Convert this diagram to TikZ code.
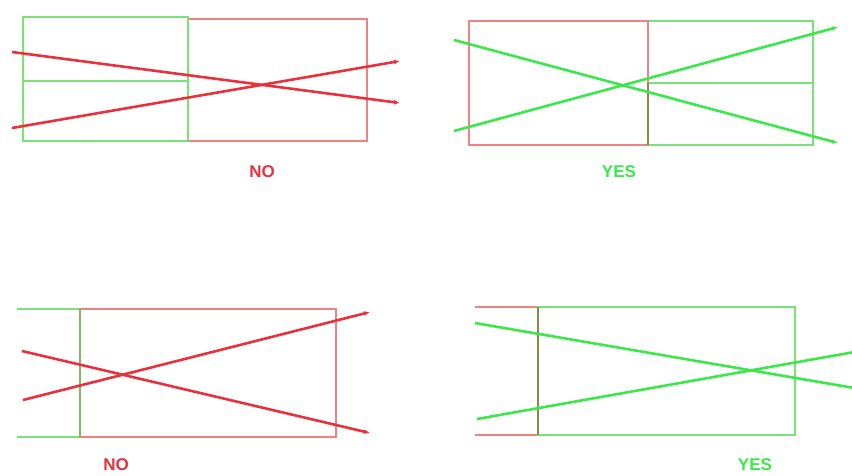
\documentclass[tikz,border=0pt]{standalone}
\usepackage{fontspec}
\setmainfont{Liberation Sans}
\usetikzlibrary{arrows.meta}
\definecolor{lred}{HTML}{F08282}
\definecolor{lgreen}{HTML}{78E478}
\definecolor{sred}{HTML}{E8313C}
\definecolor{sgreen}{HTML}{3BE84A}
\definecolor{olive}{HTML}{8A8A45}
\tikzset{
  redbox/.style={draw=lred,line width=1.3pt},
  greenbox/.style={draw=lgreen,line width=1.3pt},
  redray/.style={draw=sred,line width=2.6pt,-{Latex[length=6pt,width=5pt]}},
  greenray/.style={draw=sgreen,line width=2.6pt,-{Latex[length=6pt,width=5pt]}},
  redlbl/.style={text=sred,font=\fontsize{17}{17}\selectfont\bfseries,inner sep=0pt},
  greenlbl/.style={text=sgreen,font=\fontsize{17}{17}\selectfont\bfseries,inner sep=0pt},
}
\begin{document}
\begin{tikzpicture}[x=1pt,y=-1pt]
\useasboundingbox (0,0) rectangle (852,475);
% ---------- Panel 1 (top-left) ----------
\draw[greenbox] (23,17) rectangle (188,141);
\draw[greenbox] (23,81) -- (188,81);
\draw[redbox] (188,19) rectangle (367,141);
\draw[greenbox] (188,17) -- (188,141);
\coordinate (a1) at (12,52);  \coordinate (b1) at (400,103);
\coordinate (a2) at (12,128); \coordinate (b2) at (400,61);
\draw[redray] (a1) -- (b1);
\draw[redray] (a2) -- (b2);
\node[redlbl] (no1) at (262,172) {NO};
% ---------- Panel 2 (top-right) ----------
\draw[greenbox] (648,21) rectangle (813,145);
\draw[greenbox] (648,83) -- (813,83);
\draw[redbox] (469,21) rectangle (648,145);
\draw[draw=olive,line width=1.3pt] (648,83) -- (648,145);
\coordinate (c1) at (454,40);  \coordinate (d1) at (838,143);
\coordinate (c2) at (454,131); \coordinate (d2) at (838,27);
\draw[greenray] (c1) -- (d1);
\draw[greenray] (c2) -- (d2);
\node[greenlbl] (yes1) at (619,172) {YES};
% ---------- Panel 3 (bottom-left) ----------
\draw[greenbox] (17,309) -- (80,309);
\draw[greenbox] (17,437) -- (80,437);
\draw[redbox] (80,309) rectangle (336,437);
\draw[draw=olive!50!lgreen,line width=1.3pt] (80,309) -- (80,437);
\coordinate (e1) at (22,351); \coordinate (f1) at (370,433);
\coordinate (e2) at (23,400); \coordinate (f2) at (370,312);
\draw[redray] (e1) -- (f1);
\draw[redray] (e2) -- (f2);
\node[redlbl] (no2) at (116,465) {NO};
% ---------- Panel 4 (bottom-right) ----------
\draw[redbox] (475,307) -- (538,307);
\draw[redbox] (475,435) -- (538,435);
\draw[greenbox] (538,307) rectangle (795,435);
\draw[draw=olive,line width=1.4pt] (538,307) -- (538,435);
\coordinate (g1) at (475,323); \coordinate (h1) at (860,389);
\coordinate (g2) at (477,419); \coordinate (h2) at (860,351);
\draw[draw=sgreen,line width=2.6pt] (g1) -- (h1);
\draw[draw=sgreen,line width=2.6pt] (g2) -- (h2);
\node[greenlbl] (yes2) at (755,465) {YES};
\end{tikzpicture}
\end{document}
